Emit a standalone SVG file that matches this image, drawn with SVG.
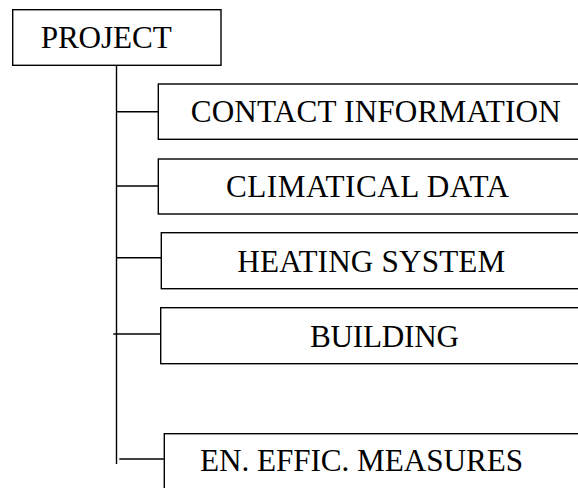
<svg xmlns="http://www.w3.org/2000/svg" width="578" height="488" viewBox="0 0 578 488">
<style>
.box{fill:#fff;stroke:#000;stroke-width:1.4}
.ln{stroke:#000;stroke-width:1.4;fill:none}
text{font-family:"Liberation Serif","Times New Roman",serif;font-size:31.2px;fill:#000}
</style>
<rect width="578" height="488" fill="#fff"/>
<g id="connectors">
<line class="ln" x1="116.5" y1="65" x2="116.5" y2="464"/>
<line class="ln" x1="116.5" y1="111.7" x2="158.5" y2="111.7"/>
<line class="ln" x1="116.5" y1="186" x2="158.5" y2="186"/>
<line class="ln" x1="116.5" y1="257.7" x2="161.5" y2="257.7"/>
<line class="ln" x1="113.3" y1="334" x2="160.7" y2="334"/>
<line class="ln" x1="119.3" y1="459" x2="164.5" y2="459"/>
</g>
<g id="project">
<rect class="box" x="12.7" y="9.7" width="208.3" height="55.6"/>
<text x="40.7" y="47.7" textLength="131" lengthAdjust="spacing">PROJECT</text>
</g>
<g id="contact">
<rect class="box" x="158.3" y="84" width="430" height="55.3"/>
<text x="190.7" y="122.3" textLength="370" lengthAdjust="spacing">CONTACT INFORMATION</text>
</g>
<g id="climatical">
<rect class="box" x="158.3" y="159" width="430" height="55"/>
<text x="226" y="196.7" textLength="283" lengthAdjust="spacing">CLIMATICAL DATA</text>
</g>
<g id="heating">
<rect class="box" x="161.3" y="232.7" width="430" height="56"/>
<text x="237.3" y="271.7" textLength="268" lengthAdjust="spacing">HEATING SYSTEM</text>
</g>
<g id="building">
<rect class="box" x="160.7" y="307.7" width="430" height="56"/>
<text x="310" y="346.7" textLength="149" lengthAdjust="spacing">BUILDING</text>
</g>
<g id="measures">
<rect class="box" x="164.3" y="433.7" width="430" height="70"/>
<text x="200" y="470.7" textLength="323" lengthAdjust="spacing">EN. EFFIC. MEASURES</text>
</g>
</svg>
